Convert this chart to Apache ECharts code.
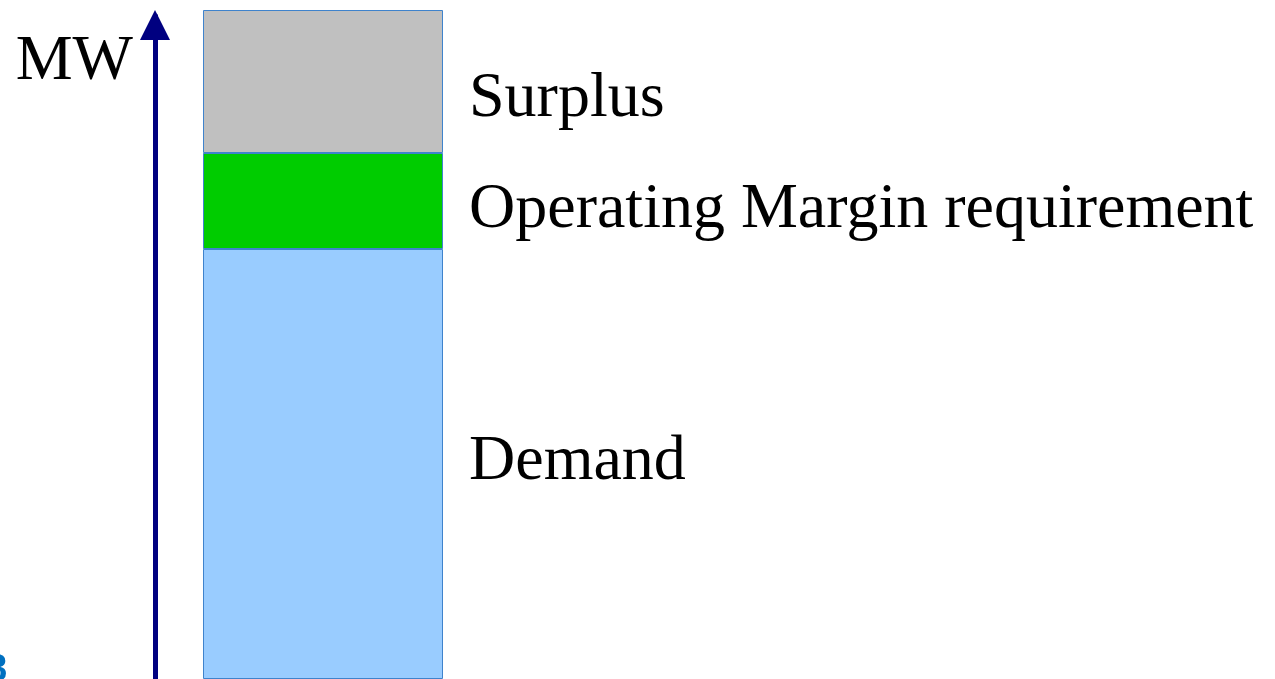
<!DOCTYPE html>
<html>
<head>
<meta charset="utf-8">
<script src="https://cdn.jsdelivr.net/npm/echarts@6/dist/echarts.min.js"></script>
<style>html,body{margin:0;padding:0;background:#fff;}#c{width:1275px;height:679px;}</style>
</head>
<body>
<div id="c"></div>
<script>
const categories = ['Capacity'];
const seriesNames = ['Demand', 'Operating Margin requirement', 'Surplus'];
const demand = [430];
const margin = [96];
const surplus = [143];
const axisMax = 663;
const axisName = 'MW';
const cornerText = '8';

const chart = echarts.init(document.getElementById('c'));
const serif = '"Liberation Serif", "Times New Roman", serif';
function mk(name, data, color, offsetY) {
  return {
    name: name, type: 'bar', stack: 'total', data: data, barWidth: 240, clip: false,
    itemStyle: { color: color, borderColor: '#3f83cc', borderWidth: 1 },
    label: {
      show: true, position: 'right', distance: 26, offset: [0, offsetY],
      formatter: name, fontFamily: serif, fontSize: 64, color: '#000'
    },
    emphasis: { disabled: true }, animation: false
  };
}
chart.setOption({
  animation: false,
  grid: { left: 155, top: 16, width: 336, bottom: 0 },
  xAxis: { type: 'category', data: categories, show: false },
  yAxis: {
    type: 'value', min: 0, max: axisMax,
    name: axisName, nameLocation: 'end', nameGap: -46,
    nameTextStyle: { fontFamily: serif, fontSize: 64, color: '#000', align: 'right', verticalAlign: 'middle', padding: [0, 22, 0, 0] },
    axisLine: { show: true, lineStyle: { color: '#000080', width: 5 }, symbol: ['none', 'triangle'], symbolSize: [30, 30], symbolOffset: [0, -9] },
    axisTick: { show: false }, axisLabel: { show: false }, splitLine: { show: false }
  },
  graphic: [{
    type: 'text', left: -14, top: 652,
    style: { text: cornerText, font: 'bold 38px "Liberation Sans", Arial, sans-serif', fill: '#0070c0' }
  }],
  series: [
    mk(seriesNames[0], demand, '#99ccff', -2),
    mk(seriesNames[1], margin, '#00cc00', 9),
    mk(seriesNames[2], surplus, '#c0c0c0', 18)
  ]
});
</script>
</body>
</html>
